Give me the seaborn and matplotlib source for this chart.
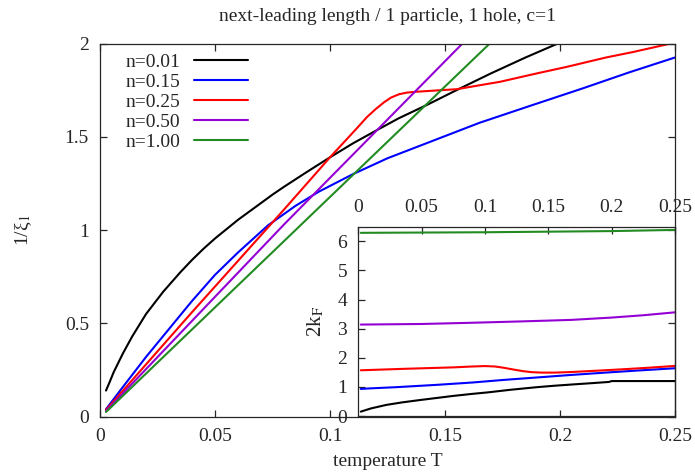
import pandas as pd
import seaborn as sns
import matplotlib.pyplot as plt

# main panel: 1/xi_1 vs temperature
T_n001 = [0.0026, 0.004, 0.006, 0.008, 0.010, 0.012, 0.014, 0.016, 0.018, 0.02, 0.0225,
          0.025, 0.0275, 0.03, 0.035, 0.04, 0.045, 0.05, 0.055, 0.06, 0.065, 0.07,
          0.075, 0.08, 0.09, 0.1, 0.11, 0.121, 0.13, 0.142, 0.155, 0.17, 0.185, 0.2]
xi_n001 = [0.14, 0.18, 0.24, 0.29, 0.34, 0.385, 0.43, 0.47, 0.51, 0.55, 0.59,
           0.63, 0.67, 0.705, 0.775, 0.84, 0.90, 0.955, 1.005, 1.055, 1.10, 1.145,
           1.19, 1.232, 1.312, 1.39, 1.465, 1.54, 1.6, 1.67, 1.75, 1.84, 1.925, 2.005]

T_n015 = [0.0026, 0.01, 0.02, 0.03, 0.04, 0.05, 0.06, 0.073, 0.085, 0.095, 0.11, 0.125,
          0.145, 0.165, 0.188, 0.21, 0.23, 0.25]
xi_n015 = [0.04, 0.16, 0.32, 0.47, 0.62, 0.76, 0.88, 1.025, 1.13, 1.205, 1.30, 1.385,
           1.48, 1.575, 1.67, 1.76, 1.845, 1.925]

T_n025 = [0.0026, 0.02, 0.04, 0.06, 0.08, 0.1, 0.112, 0.116, 0.12, 0.1235, 0.1265, 0.13,
          0.1335, 0.137, 0.142, 0.155, 0.174, 0.19, 0.203, 0.22, 0.232, 0.25]
xi_n025 = [0.036, 0.28, 0.56, 0.835, 1.11, 1.39, 1.55, 1.605, 1.65, 1.685, 1.71, 1.728,
           1.737, 1.741, 1.745, 1.755, 1.795, 1.84, 1.875, 1.925, 1.955, 2.005]

T_n050 = [0.0026, 0.08, 0.16]
xi_n050 = [0.03, 1.03, 2.03]

T_n100 = [0.0026, 0.085, 0.172]
xi_n100 = [0.025, 1.0, 2.03]

# inset: 2k_F vs temperature
Ti_n001 = [0.002, 0.01, 0.022, 0.035, 0.049, 0.062, 0.075, 0.09, 0.102, 0.12, 0.141,
           0.155, 0.168, 0.185, 0.198, 0.2, 0.25]
kf_n001 = [0.15, 0.26, 0.38, 0.47, 0.55, 0.62, 0.69, 0.76, 0.81, 0.9, 0.99,
           1.04, 1.08, 1.13, 1.17, 1.2, 1.2]

Ti_n015 = [0.002, 0.01, 0.03, 0.062, 0.09, 0.115, 0.14, 0.168, 0.195, 0.22, 0.25]
kf_n015 = [0.93, 0.95, 0.99, 1.07, 1.15, 1.24, 1.32, 1.41, 1.49, 1.56, 1.64]

Ti_n025 = [0.002, 0.036, 0.075, 0.09, 0.1, 0.108, 0.115, 0.122, 0.13, 0.137, 0.145,
           0.155, 0.168, 0.19, 0.207, 0.23, 0.25]
kf_n025 = [1.57, 1.62, 1.67, 1.70, 1.715, 1.70, 1.655, 1.60, 1.54, 1.505, 1.49,
           1.49, 1.51, 1.56, 1.6, 1.66, 1.72]

Ti_n050 = [0.002, 0.05, 0.088, 0.13, 0.168, 0.2, 0.225, 0.25]
kf_n050 = [3.14, 3.16, 3.2, 3.25, 3.3, 3.38, 3.46, 3.56]

Ti_n100 = [0.002, 0.1, 0.2, 0.25]
kf_n100 = [6.29, 6.31, 6.35, 6.39]

labels = ["n=0.01", "n=0.15", "n=0.25", "n=0.50", "n=1.00"]
colors = ["#000000", "#0000ff", "#ff0000", "#9400d3", "#228b22"]

main_series = [(T_n001, xi_n001), (T_n015, xi_n015), (T_n025, xi_n025),
               (T_n050, xi_n050), (T_n100, xi_n100)]
inset_series = [(Ti_n001, kf_n001), (Ti_n015, kf_n015), (Ti_n025, kf_n025),
                (Ti_n050, kf_n050), (Ti_n100, kf_n100)]

sns.set_style("ticks")
plt.rcParams["font.family"] = ["Liberation Serif", "DejaVu Serif"]
plt.rcParams["mathtext.fontset"] = "stix"
FS = 14

fig = plt.figure(figsize=(6.95, 4.75), dpi=100)
ax = fig.add_axes([0.1439, 0.1228, 0.8273, 0.7856])

for (t, v), lab, c in zip(main_series, labels, colors):
    df = pd.DataFrame({"T": t, "v": v})
    sns.lineplot(data=df, x="T", y="v", ax=ax, color=c, label=lab, lw=1.5)

ax.set_xlim(0, 0.25)
ax.set_ylim(0, 2)
ax.set_xticks([0, 0.05, 0.1, 0.15, 0.2, 0.25])
ax.set_xticklabels(["0", "0.05", "0.1", "0.15", "0.2", "0.25"])
ax.set_yticks([0, 0.5, 1, 1.5, 2])
ax.set_yticklabels(["0", "0.5", "1", "1.5", "2"])
ax.tick_params(direction="in", top=True, right=True, length=5, width=0.9,
               labelsize=FS, pad=8)
ax.set_xlabel("temperature T", fontsize=FS, labelpad=6)
ax.set_ylabel("1/ξ$_1$", fontsize=FS, labelpad=22)
ax.set_title("next-leading length / 1 particle, 1 hole, c=1", fontsize=FS, pad=16)
for s in ax.spines.values():
    s.set_linewidth(0.9)

ax.legend(loc="upper left", frameon=False, markerfirst=False, fontsize=FS,
          handlelength=2.8, handletextpad=0.7, labelspacing=0.12,
          borderaxespad=0.1, bbox_to_anchor=(0.027, 1.0))

# inset
axi = fig.add_axes([0.5155, 0.1242, 0.4557, 0.3985])
axi.patch.set_alpha(0)
for (t, v), c in zip(inset_series, colors):
    df = pd.DataFrame({"T": t, "v": v})
    sns.lineplot(data=df, x="T", y="v", ax=axi, color=c, lw=1.5, legend=False)

axi.set_xlim(0, 0.25)
axi.set_ylim(0, 6.5)
axi.set_xticks([0, 0.05, 0.1, 0.15, 0.2, 0.25])
axi.set_xticklabels(["0", "0.05", "0.1", "0.15", "0.2", "0.25"])
axi.set_yticks([0, 1, 2, 3, 4, 5, 6])
axi.xaxis.tick_top()
axi.tick_params(direction="in", length=5, width=0.9, labelsize=FS, pad=8)
axi.tick_params(axis="x", bottom=False)
axi.set_xlabel("")
axi.set_ylabel("2k$_\\mathrm{F}$", fontsize=FS + 1, labelpad=8)
for s in axi.spines.values():
    s.set_linewidth(0.9)

fig.savefig("out.png", dpi=100)
